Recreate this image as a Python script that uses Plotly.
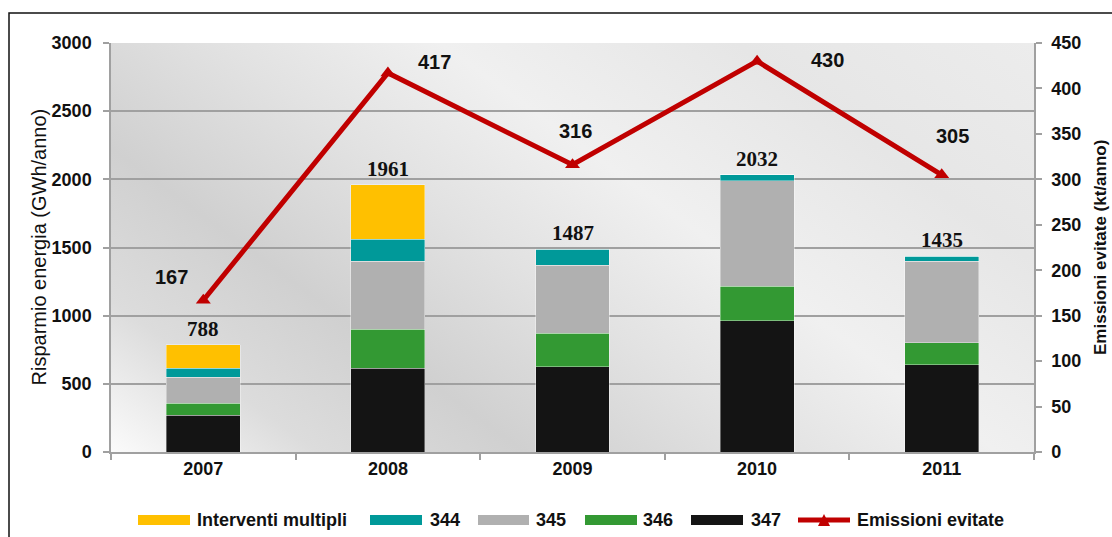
import base64
import plotly.graph_objects as go

# ---- data ----
years = ["2007", "2008", "2009", "2010", "2011"]
s347 = [269, 614, 626, 963, 640]
s346 = [90, 288, 244, 253, 162]
s345 = [189, 499, 499, 772, 599]
s344 = [68, 159, 118, 44, 34]
interventi_multipli = [172, 401, 0, 0, 0]
emissioni = [167, 417, 316, 430, 305]

series = [
    ("347", s347, "#141414"),
    ("346", s346, "#339933"),
    ("345", s345, "#b0b0b0"),
    ("344", s344, "#009999"),
    ("Interventi multipli", interventi_multipli, "#ffc000"),
]
totals = [sum(v) for v in zip(s347, s346, s345, s344, interventi_multipli)]

LINE_RED = "#c00000"
AX_GREY = "#a0a0a0"
FONT = "Liberation Sans, Arial, sans-serif"

W, H = 1112, 537
ML, MR, MT, MB = 111, 78, 43, 85
PW, PH = W - ML - MR, H - MT - MB


def px_x(px):
    return (px - ML) / PW


def px_y(py):
    return (MT + PH - py) / PH


fig = go.Figure()

for name, vals, col in series:
    fig.add_trace(go.Bar(
        x=years, y=vals, name=name, marker_color=col,
        marker_line=dict(color="rgba(255,255,255,0.45)", width=0.8),
        width=0.4, showlegend=False,
    ))

fig.add_trace(go.Scatter(
    x=years, y=emissioni, yaxis="y2", mode="lines+markers",
    name="Emissioni evitate",
    line=dict(color=LINE_RED, width=5),
    marker=dict(symbol="triangle-up", size=13, color=LINE_RED),
    showlegend=False,
))

annotations = []
# totals above each bar (category axis positions given by index)
for i, t in enumerate(totals):
    annotations.append(dict(
        x=i, y=t, xref="x", yref="y", text=f"<b>{t}</b>", showarrow=False,
        yanchor="bottom", yshift=2,
        font=dict(family="Liberation Serif, Times New Roman, serif", size=21, color="#111"),
    ))

# avoided-emission labels, placed beside each point
emis_shift = [(-32, 23), (47, 11), (3, 34), (70, 1), (11, 39)]
for i, (e, (dx, dy)) in enumerate(zip(emissioni, emis_shift)):
    annotations.append(dict(
        x=i, y=e, xref="x", yref="y2", text=f"<b>{e}</b>", showarrow=False,
        xshift=dx, yshift=dy,
        font=dict(family=FONT, size=20, color="#111"),
    ))

# axis titles
annotations.append(dict(
    x=px_x(25), y=0.5, xref="paper", yref="paper", textangle=-90,
    text="Risparmio energia (GWh/anno)", showarrow=False,
    font=dict(family=FONT, size=20, color="#111"),
))
annotations.append(dict(
    x=px_x(1112), y=0.5, xref="paper", yref="paper", textangle=-90,
    text="<b>Emissioni evitate (kt/anno)</b>", showarrow=False,
    font=dict(family=FONT, size=17, color="#111"),
))

shapes = []
# legend (wide swatches)
leg_y = 520
leg_items = [
    ("Interventi multipli", "#ffc000", 138, 190, 195),
    ("344", "#009999", 370, 422, 428),
    ("345", "#b0b0b0", 478, 529, 534),
    ("346", "#339933", 585, 637, 641),
    ("347", "#141414", 691, 743, 749),
]
for label, col, x0, x1, tx in leg_items:
    shapes.append(dict(
        type="rect", xref="paper", yref="paper",
        x0=px_x(x0), x1=px_x(x1), y0=px_y(leg_y + 5), y1=px_y(leg_y - 5),
        fillcolor=col, line=dict(width=0),
    ))
    annotations.append(dict(
        x=px_x(tx), y=px_y(leg_y), xref="paper", yref="paper",
        text=f"<b>{label}</b>", showarrow=False, xanchor="left", yanchor="middle",
        font=dict(family=FONT, size=18, color="#111"),
    ))
shapes.append(dict(
    type="line", xref="paper", yref="paper",
    x0=px_x(798), x1=px_x(850), y0=px_y(leg_y), y1=px_y(leg_y),
    line=dict(color=LINE_RED, width=5),
))
tri = f"M {px_x(818)} {px_y(leg_y + 6)} L {px_x(830)} {px_y(leg_y + 6)} L {px_x(824)} {px_y(leg_y - 6)} Z"
shapes.append(dict(type="path", xref="paper", yref="paper", path=tri,
                   fillcolor=LINE_RED, line=dict(width=0)))
annotations.append(dict(
    x=px_x(855), y=px_y(leg_y), xref="paper", yref="paper",
    text="<b>Emissioni evitate</b>", showarrow=False, xanchor="left", yanchor="middle",
    font=dict(family=FONT, size=18, color="#111"),
))

# chart border
shapes.append(dict(
    type="rect", xref="paper", yref="paper",
    x0=px_x(9), y1=px_y(13), x1=px_x(1130), y0=px_y(560),
    line=dict(color="#111", width=1.5), fillcolor="rgba(0,0,0,0)",
))

# soft diagonal gradient behind the plotting area
svg = (
    f'<svg xmlns="http://www.w3.org/2000/svg" width="{PW}" height="{PH}" '
    f'viewBox="0 0 {PW} {PH}" preserveAspectRatio="none">'
    '<defs><linearGradient id="g" gradientUnits="userSpaceOnUse" '
    f'x1="0" y1="{PH}" x2="517" y2="{PH - 705}">'
    '<stop offset="0" stop-color="#fbfbfb"/>'
    '<stop offset="0.14" stop-color="#dcdcdc"/>'
    '<stop offset="0.28" stop-color="#d0d0d0"/>'
    '<stop offset="0.45" stop-color="#e2e2e2"/>'
    '<stop offset="0.6" stop-color="#f0f0f0"/>'
    '<stop offset="0.8" stop-color="#e6e6e6"/>'
    '<stop offset="1" stop-color="#ececec"/>'
    '</linearGradient></defs>'
    f'<rect width="{PW}" height="{PH}" fill="url(#g)"/></svg>'
)
bg_src = "data:image/svg+xml;base64," + base64.b64encode(svg.encode()).decode()

fig.update_layout(
    width=W, height=H,
    margin=dict(l=ML, r=MR, t=MT, b=MB),
    barmode="stack",
    paper_bgcolor="white",
    plot_bgcolor="rgba(0,0,0,0)",
    showlegend=False,
    font=dict(family=FONT, color="#111"),
    images=[dict(source=bg_src, xref="paper", yref="paper", x=0, y=1,
                 sizex=1, sizey=1, sizing="stretch", layer="below",
                 xanchor="left", yanchor="top")],
    xaxis=dict(
        type="category", range=[-0.5, 4.5], tickson="boundaries",
        ticks="outside", ticklen=6, tickcolor=AX_GREY, tickwidth=1.5,
        showline=True, linecolor=AX_GREY, linewidth=1.5,
        showgrid=False,
        tickfont=dict(family=FONT, size=18, color="#111", weight="bold"),
    ),
    yaxis=dict(
        range=[0, 3000], dtick=500,
        ticks="outside", ticklen=6, tickcolor=AX_GREY, tickwidth=1.5,
        showline=True, linecolor=AX_GREY, linewidth=1.5,
        showgrid=True, gridcolor=AX_GREY, gridwidth=1.5,
        zeroline=False, ticklabelstandoff=8,
        tickfont=dict(family=FONT, size=18, color="#111", weight="bold"),
    ),
    yaxis2=dict(
        overlaying="y", side="right", range=[0, 450], dtick=50,
        ticks="outside", ticklen=6, tickcolor=AX_GREY, tickwidth=1.5,
        showline=True, linecolor=AX_GREY, linewidth=1.5,
        showgrid=False, zeroline=False, ticklabelstandoff=6,
        tickfont=dict(family=FONT, size=18, color="#111", weight="bold"),
    ),
    annotations=annotations,
    shapes=shapes,
)

fig.write_html("out.html")
